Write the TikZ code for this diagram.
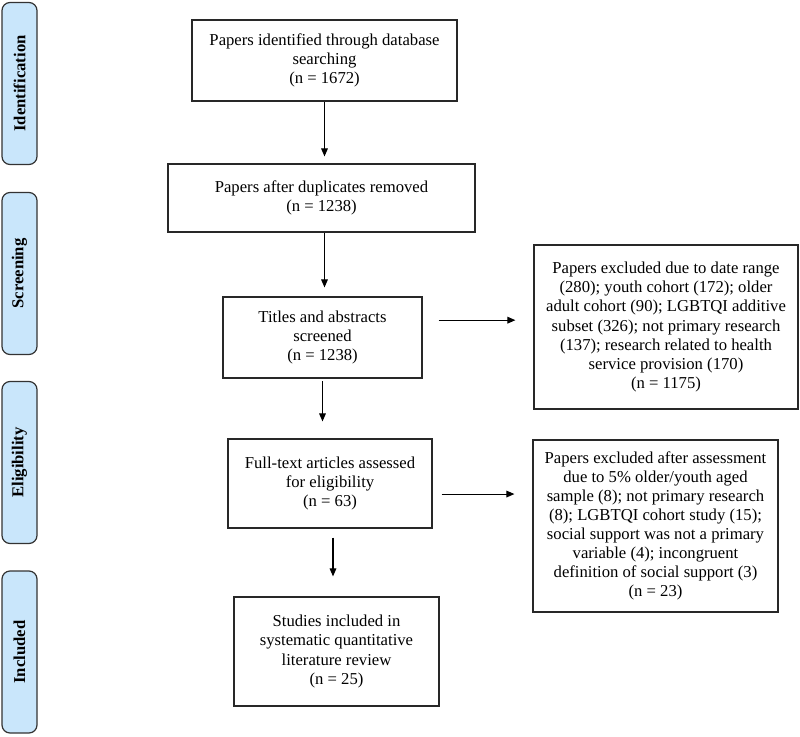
\documentclass[tikz,border=0pt]{standalone}
\usepackage{fontspec}
\setmainfont{Liberation Serif}
\usetikzlibrary{arrows.meta}
\definecolor{prismacolor0001}{RGB}{201,230,251}
\definecolor{prismacolor0002}{RGB}{51,51,51}
\definecolor{prismacolor0003}{RGB}{40,40,40}
\begin{document}
\begin{tikzpicture}[x=0.75pt,y=-0.75pt
,pbox/.style={draw=prismacolor0003,line width=0.9pt,inner sep=0pt,align=center,font=\fontsize{12.5}{14.3}\selectfont}
,pside/.style={draw=prismacolor0002,fill=prismacolor0001,line width=0.9pt,rounded corners=6pt,inner sep=0pt,minimum width=26.25pt,minimum height=121.5pt}
,plabel/.style={rotate=90,font=\fontsize{12.5}{14}\selectfont\bfseries}
,parrow/.style={-{Triangle[length=6pt,width=5pt]},line width=0.8pt,color=black}
]
\useasboundingbox (0,0) rectangle (800,736);
% phase labels
\node[pside] (sideI) at (19.5,83.5) {};
\node[plabel] at (sideI) {Identification};
\node[pside] (sideS) at (19.5,273.5) {};
\node[plabel] at (sideS) {Screening};
\node[pside] (sideE) at (19.5,462.5) {};
\node[plabel] at (sideE) {Eligibility};
\node[pside] (sideN) at (19.5,652) {};
\node[plabel] at (sideN) {Included};
% main column
\node[pbox,minimum width=198.75pt,minimum height=60.75pt] (ident) at (324.5,60.5) {Papers identified through database\\searching\\(n = 1672)};
\node[pbox,minimum width=230.25pt,minimum height=51pt] (dup) at (321.5,198) {Papers after duplicates removed\\(n = 1238)};
\node[pbox,minimum width=149.25pt,minimum height=60.75pt] (screen) at (322.5,337.5) {Titles and abstracts\\screened\\(n = 1238)};
\node[pbox,minimum width=153pt,minimum height=66.75pt] (full) at (330,483.5) {Full-text articles assessed\\for eligibility\\(n = 63)};
\node[pbox,minimum width=153.75pt,minimum height=81.75pt] (incl) at (336.5,651.5) {Studies included in\\systematic quantitative\\literature review\\(n = 25)};
% exclusions
\node[pbox,minimum width=198pt,minimum height=123pt] (exclA) at (666,327) {Papers excluded due to date range\\(280); youth cohort (172); older\\adult cohort (90); LGBTQI additive\\subset (326); not primary research\\(137); research related to health\\service provision (170)\\(n = 1175)};
\node[pbox,minimum width=183.75pt,minimum height=129pt] (exclB) at (655.5,526) {Papers excluded after assessment\\due to 5\% older/youth aged\\sample (8); not primary research\\(8); LGBTQI cohort study (15);\\social support was not a primary\\variable (4); incongruent\\definition of social support (3)\\(n = 23)};
% arrows
\draw[parrow,shorten >=5.25pt] (ident.south) -- (ident.south |- dup.north);
\draw[parrow,shorten >=6.75pt] (ident.south |- dup.south) -- (ident.south |- screen.north);
\draw[parrow,shorten <=2pt,shorten >=12.75pt] (screen.south) -- (screen.south |- full.north);
\draw[parrow,shorten <=6.75pt,shorten >=15pt] ([xshift=2.25pt]full.south) -- ([xshift=2.25pt]full.south |- incl.north);
\draw[parrow,shorten <=12pt,shorten >=13.5pt] ([yshift=13pt]screen.east) -- ([yshift=13pt]screen.east -| exclA.west);
\draw[parrow,shorten <=6.75pt,shorten >=13.5pt] ([yshift=-7.9pt]full.east) -- ([yshift=-7.9pt]full.east -| exclB.west);
\end{tikzpicture}
\end{document}
